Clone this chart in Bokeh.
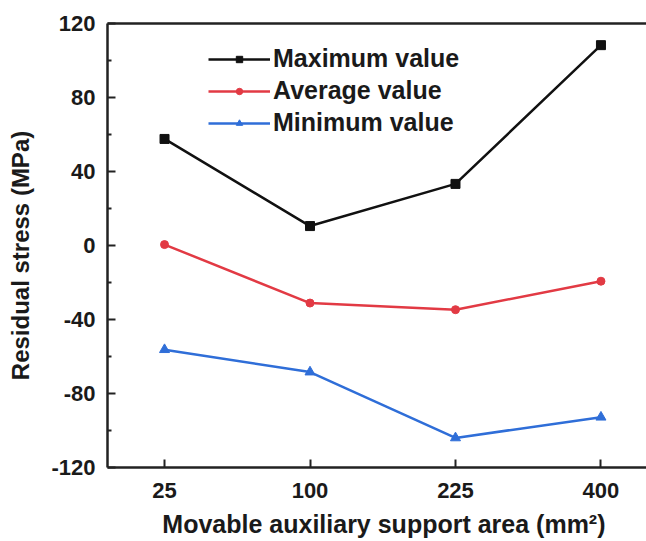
from bokeh.plotting import figure
from bokeh.models import FixedTicker, LinearAxis, Range1d, Legend, LegendItem
from bokeh.embed import file_html
from bokeh.resources import INLINE

# ---- data ----
areas = ["25", "100", "225", "400"]
max_vals = [57.6, 10.5, 33.3, 108.3]
avg_vals = [0.5, -31.1, -34.7, -19.3]
min_vals = [-56.3, -68.4, -104.0, -92.8]
y_ticks = [-120, -80, -40, 0, 40, 80, 120]
y_minor = [-100, -60, -20, 20, 60, 100]
series_names = ["Maximum value", "Average value", "Minimum value"]

xs = list(range(len(areas)))

FONT = "Liberation Sans"
BLACK = "#111111"
RED = "#e23a44"
BLUE = "#2f6ed8"

p = figure(width=646, height=541, output_backend="svg", toolbar_location=None,
           x_range=Range1d(-0.392, 3.313), y_range=Range1d(-120, 120),
           min_border_left=107, min_border_right=0, min_border_top=23,
           min_border_bottom=74)
p.outline_line_color = None
p.xgrid.visible = False
p.ygrid.visible = False
p.background_fill_color = "white"
p.border_fill_color = "white"

styles = [(max_vals, BLACK, "square", 9), (avg_vals, RED, "circle", 8),
          (min_vals, BLUE, "triangle", 10)]
items = []
for name, (vals, col, mk, sz) in zip(series_names, styles):
    rl = p.line(xs, vals, line_color=col, line_width=2.5)
    rm = p.scatter(xs, vals, marker=mk, size=sz, color=col)
    items.append(LegendItem(label=name, renderers=[rl, rm]))

# axes
xa = p.xaxis[0]
xa.ticker = FixedTicker(ticks=xs)
xa.major_label_overrides = {i: a for i, a in enumerate(areas)}
xa.axis_label = "\u00a0\u00a0Movable auxiliary support area (mm²)"
ya = p.yaxis[0]
ya.ticker = FixedTicker(ticks=y_ticks, minor_ticks=y_minor)
ya.major_label_overrides = {t: str(t) for t in y_ticks}
ya.axis_label = "Residual stress (MPa)\u00a0\u00a0\u00a0"

for ax in (xa, ya):
    ax.axis_line_width = 2.5
    ax.axis_line_color = "#222222"
    ax.major_tick_line_width = 2
    ax.major_tick_line_color = "#222222"
    ax.minor_tick_line_width = 2
    ax.minor_tick_line_color = "#222222"
    ax.major_tick_in = 8
    ax.major_tick_out = 0
    ax.minor_tick_in = 4
    ax.minor_tick_out = 0
    ax.major_label_text_font = FONT
    ax.major_label_text_font_style = "bold"
    ax.major_label_text_font_size = "22px"
    ax.major_label_text_color = "#1a1a1a"
    ax.axis_label_text_font = FONT
    ax.axis_label_text_font_style = "bold"
    ax.axis_label_text_font_size = "24px"
    ax.axis_label_text_color = "#1a1a1a"
xa.axis_label_text_font_size = "25px"
xa.major_label_standoff = 15
xa.axis_label_standoff = 9
ya.major_label_standoff = 12
ya.axis_label_standoff = 14

top = LinearAxis(ticker=FixedTicker(ticks=[]), major_tick_line_color=None,
                 minor_tick_line_color=None, major_label_text_font_size="0px",
                 major_label_standoff=0, axis_line_width=2.5,
                 axis_line_color="#222222")
p.add_layout(top, "above")

legend = Legend(items=items, location=(101, 330))
legend.border_line_color = None
legend.background_fill_alpha = 0
legend.padding = 0
legend.margin = 0
legend.spacing = 3
legend.glyph_width = 62
legend.glyph_height = 16
legend.label_height = 16
legend.label_standoff = 3
legend.label_text_font = FONT
legend.label_text_font_style = "bold"
legend.label_text_font_size = "25px"
legend.label_text_color = "#1a1a1a"
p.add_layout(legend, "center")

open("out.html", "w").write(file_html(p, INLINE))
